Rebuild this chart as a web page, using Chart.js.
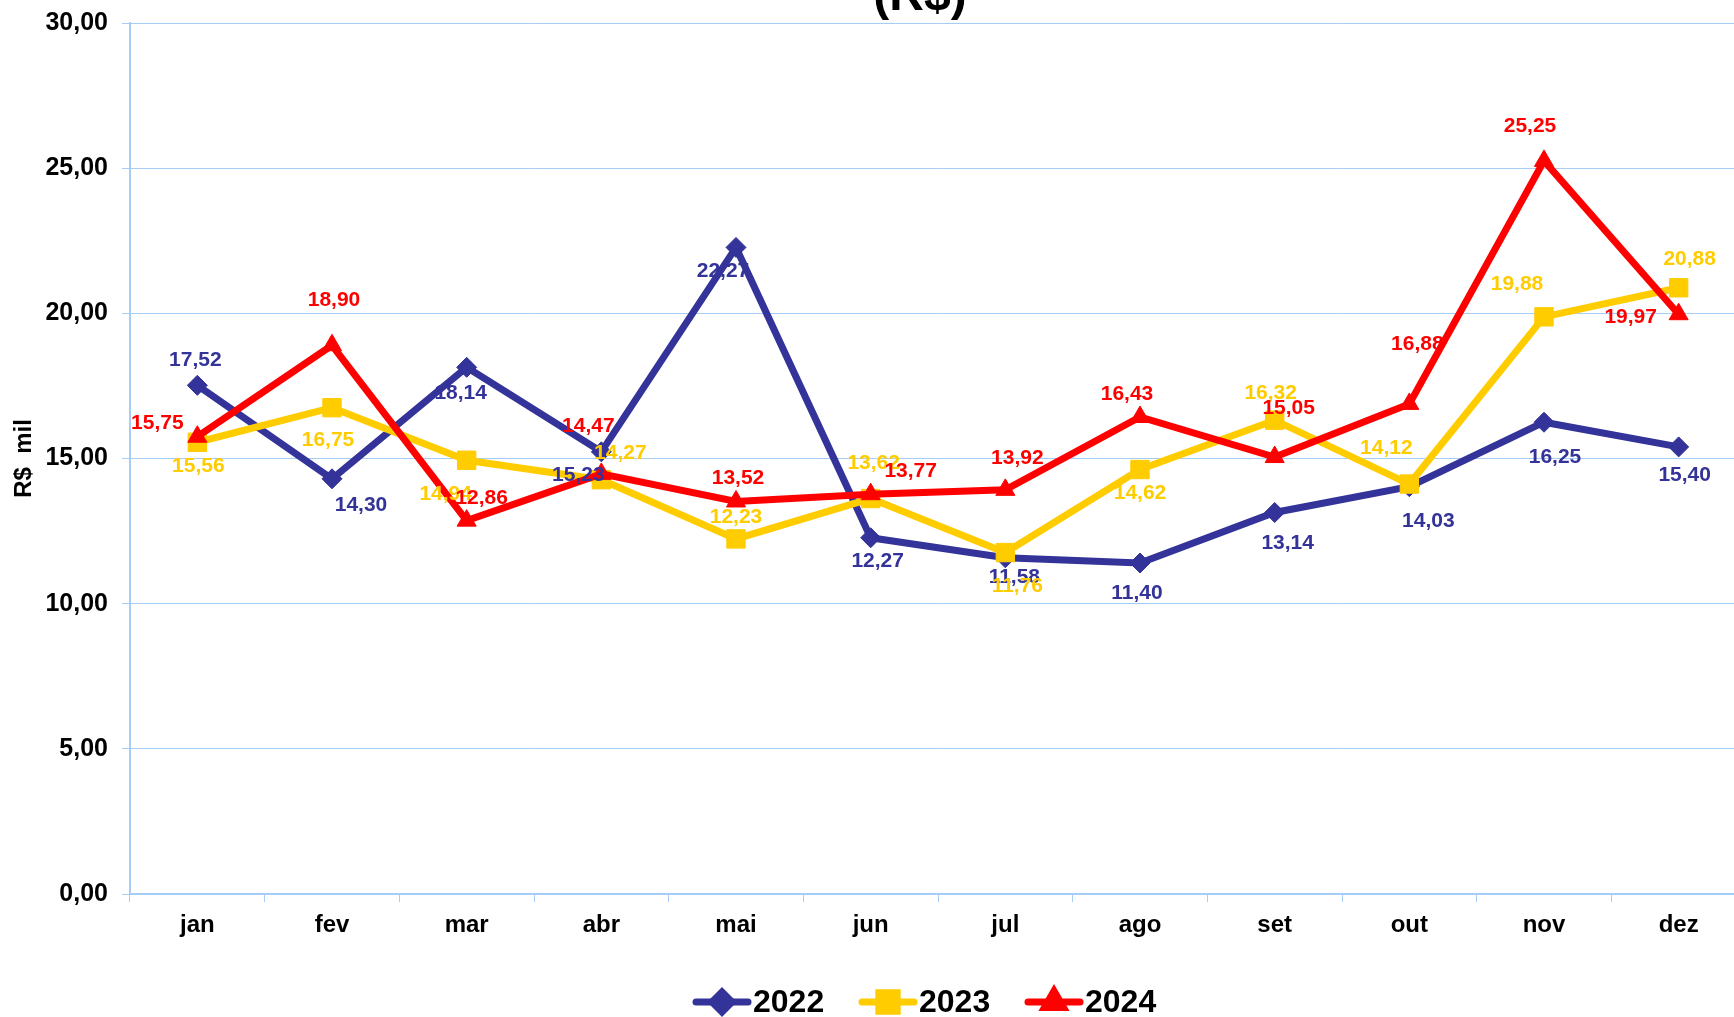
<!DOCTYPE html>
<html>
<head>
<meta charset="utf-8">
<script src="https://cdn.jsdelivr.net/npm/chart.js@4.4.0/dist/chart.umd.min.js"></script>
<style>
  html, body { margin: 0; padding: 0; background: #fff; overflow: hidden; }
  #clip { position: absolute; left: 0; top: 0; width: 1734px; height: 1017px; overflow: hidden; }
  #wrap { position: absolute; left: 0; top: 0; width: 1746px; height: 1017px; }
</style>
</head>
<body>
<div id="clip"><div id="wrap"><canvas id="dataChart"></canvas></div></div>
<script>
var months = ['jan', 'fev', 'mar', 'abr', 'mai', 'jun', 'jul', 'ago', 'set', 'out', 'nov', 'dez']
var v2022 = [17.52, 14.30, 18.14, 15.23, 22.27, 12.27, 11.58, 11.40, 13.14, 14.03, 16.25, 15.40]
var v2023 = [15.56, 16.75, 14.94, 14.27, 12.23, 13.62, 11.76, 14.62, 16.32, 14.12, 19.88, 20.88]
var v2024 = [15.75, 18.90, 12.86, 14.47, 13.52, 13.77, 13.92, 16.43, 15.05, 16.88, 25.25, 19.97]
var yTicks = [0, 5, 10, 15, 20, 25, 30]

// where each value label sits relative to its point [dx, dy]
var pos2022 = [[-2,-25],[29,26],[-6,26],[-23,23],[-13,24],[7,23],[9,19],[-3,30],[13,31],[19,35],[11,35],[6,28]]
var pos2023 = [[1,24],[-4,33],[-21,34],[19,-26],[0,-22],[3,-35],[12,34],[0,24],[-4,-27],[-23,-36],[-27,-33],[11,-29]]
var pos2024 = [[-40,-14],[2,-45],[15,-22],[-13,-48],[2,-23],[40,-23],[12,-32],[-13,-23],[14,-49],[8,-60],[-14,-35],[-48,3]]

var blue = '#333399'
var gold = '#FFCC00'
var red = '#FF0000'
var gridColor = '#a6cdf5'
var fam = "'Liberation Sans', Arial, sans-serif"

function fmt(v) { return v.toFixed(2).replace('.', ',') }

var valueLabels = {
    id: 'valueLabels',
    afterDatasetsDraw: function(chart) {
        var ctx = chart.ctx
        ctx.save()
        ctx.font = 'bold 21px ' + fam
        ctx.textAlign = 'center'
        ctx.textBaseline = 'middle'
        chart.data.datasets.forEach(function(ds, i) {
            var meta = chart.getDatasetMeta(i)
            meta.data.forEach(function(pt, j) {
                var off = ds.labelPos[j]
                ctx.fillStyle = ds.borderColor
                ctx.fillText(fmt(ds.data[j]), pt.x + off[0], pt.y + off[1])
            })
        })
        ctx.restore()
    }
}

var extras = {
    id: 'extras',
    afterDraw: function(chart) {
        var ctx = chart.ctx
        ctx.save()
        // title, mostly cut off by the top edge
        ctx.fillStyle = '#000'
        ctx.font = 'bold 48px ' + fam
        ctx.textAlign = 'center'
        ctx.textBaseline = 'alphabetic'
        ctx.fillText('(R$)', 920, 10)

        // legend
        var y = 1002
        var x = 693
        ctx.font = 'bold 32px ' + fam
        ctx.textAlign = 'left'
        ctx.textBaseline = 'middle'
        chart.data.datasets.forEach(function(ds) {
            ctx.strokeStyle = ds.borderColor
            ctx.lineWidth = 7
            ctx.lineCap = 'round'
            ctx.beginPath()
            ctx.moveTo(x + 3, y)
            ctx.lineTo(x + 55, y)
            ctx.stroke()
            ctx.fillStyle = ds.borderColor
            Chart.helpers.drawPoint(ctx, {
                pointStyle: ds.pointStyle, radius: ds.pointRadius, rotation: 0, borderWidth: 1
            }, x + 29, y)
            ctx.fillStyle = '#000'
            ctx.fillText(ds.label, x + 60, y + 1)
            x += 166
        })
        ctx.restore()
    }
}

function series(label, data, color, style, radius, labelPos, order) {
    return {
        label: label,
        data: data,
        labelPos: labelPos,
        order: order,
        borderColor: color,
        backgroundColor: color,
        borderWidth: 7,
        pointStyle: style,
        pointRadius: radius,
        pointBorderWidth: 1,
        pointBackgroundColor: color,
        pointBorderColor: color,
        tension: 0
    }
}

var dataChart = new Chart(document.getElementById('dataChart'), {
    type: 'line',
    data: {
        labels: months,
        datasets: [
            series('2022', v2022, blue, 'rectRot', 10, pos2022, 3),
            series('2023', v2023, gold, 'rect', 13, pos2023, 2),
            series('2024', v2024, red, 'triangle', 11, pos2024, 1)
        ]
    },
    plugins: [valueLabels, extras],
    options: {
        responsive: true,
        maintainAspectRatio: false,
        animation: false,
        layout: { autoPadding: false, padding: { top: 23, bottom: 73, left: 0, right: 0 } },
        plugins: {
            legend: { display: false },
            title: { display: false },
            tooltip: { enabled: false }
        },
        scales: {
            x: {
                offset: true,
                grid: { offset: true, drawOnChartArea: false, tickLength: 8, color: gridColor },
                border: { color: gridColor, width: 2 },
                ticks: { color: '#000', padding: 9, font: { family: fam, size: 24, weight: 'bold' } },
                afterFit: function(scale) { scale.height = 50 }
            },
            y: {
                min: 0,
                max: 30,
                afterBuildTicks: function(scale) { scale.ticks = yTicks.map(function(v) { return { value: v } }) },
                grid: { color: gridColor, tickLength: 8, lineWidth: 1 },
                border: { color: gridColor, width: 2 },
                ticks: {
                    color: '#000',
                    padding: 14,
                    font: { family: fam, size: 25, weight: 'bold' },
                    callback: function(v) { return fmt(v) }
                },
                title: {
                    display: true,
                    text: 'R$  mil',
                    color: '#000',
                    padding: { top: 10, bottom: 0 },
                    font: { family: fam, size: 24, weight: 'bold' }
                },
                afterFit: function(scale) {
                    scale.width = 130
                    scale.paddingTop = 0
                    scale.paddingBottom = 0
                }
            }
        }
    }
});
</script>
</body>
</html>
